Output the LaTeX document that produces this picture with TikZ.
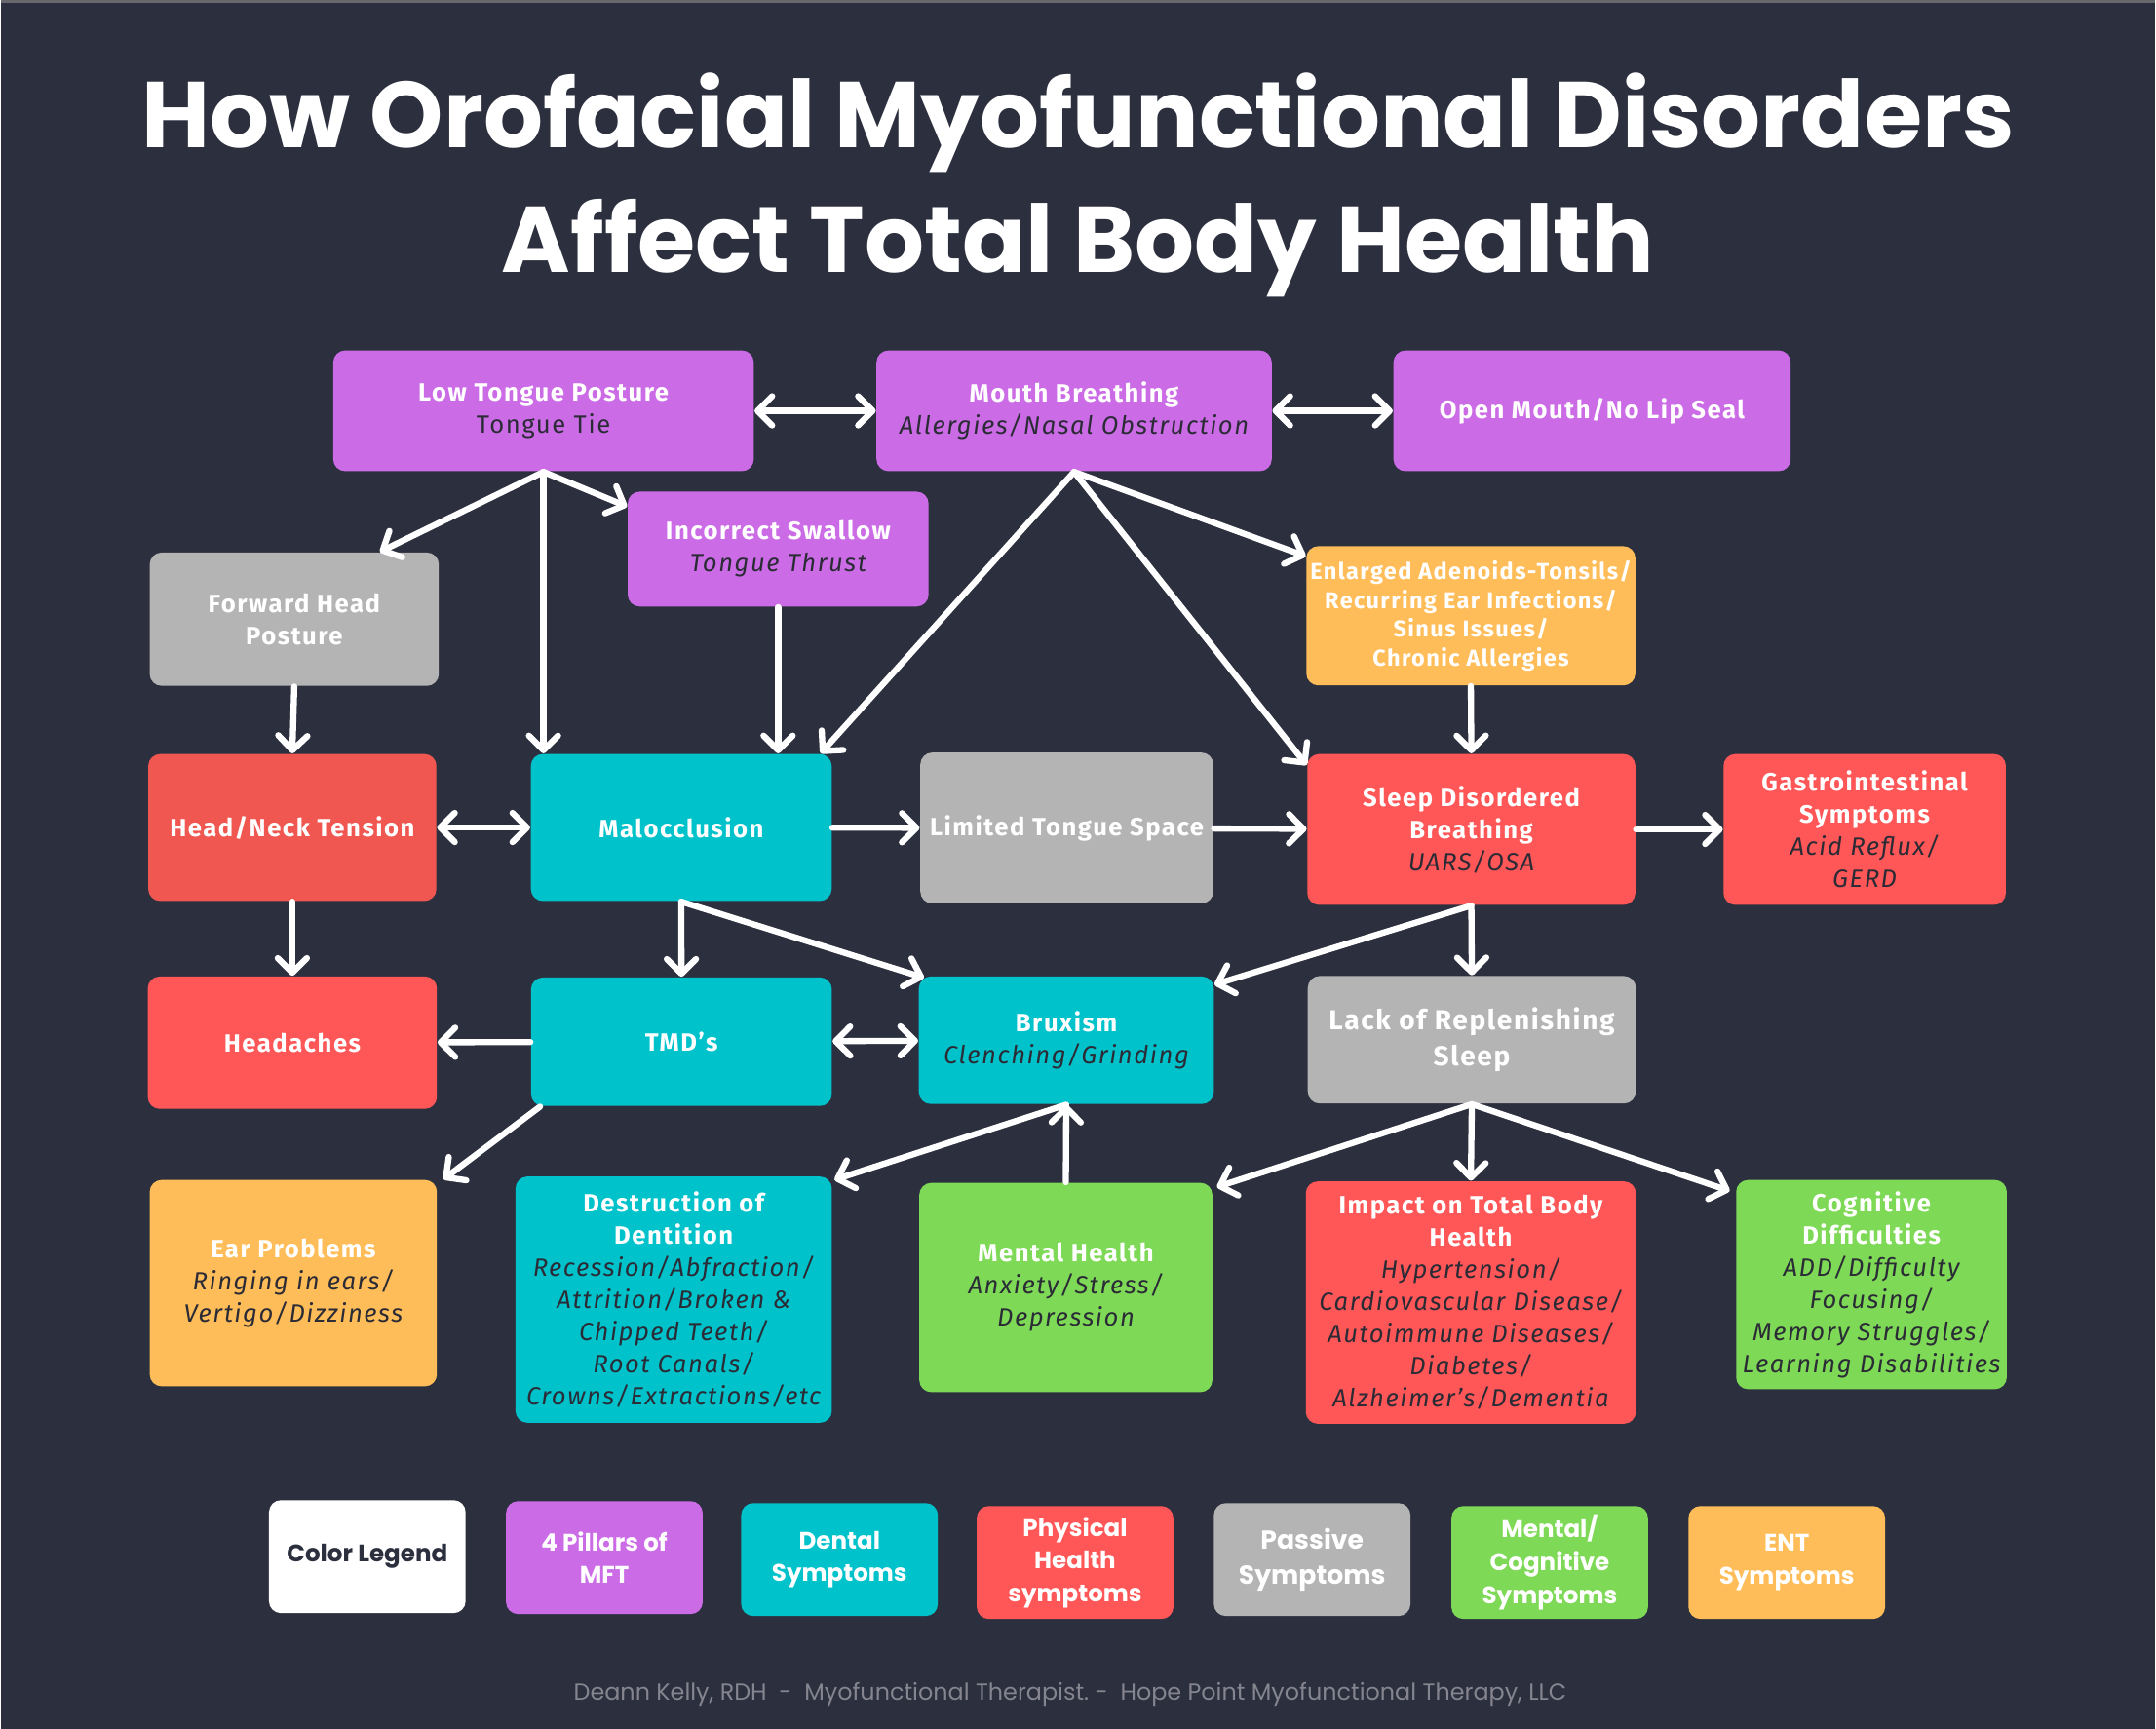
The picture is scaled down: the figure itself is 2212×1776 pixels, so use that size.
\documentclass[tikz,border=0pt]{standalone}
\usepackage{fontspec}
\setmainfont{Fira Sans}[LetterSpace=6]
\newfontfamily\poppins{Poppins}
\usetikzlibrary{arrows.meta, calc}
\definecolor{bgNavy}{HTML}{2C2F3E}
\definecolor{mftPurple}{HTML}{CB6CE6}
\definecolor{mftTeal}{HTML}{00C2CB}
\definecolor{mftRed}{HTML}{FF5757}
\definecolor{mftCoral}{HTML}{EF5750}
\definecolor{mftGray}{HTML}{B4B4B4}
\definecolor{mftGreen}{HTML}{7ED957}
\definecolor{mftOrange}{HTML}{FFBD59}
\definecolor{subText}{HTML}{2B2B36}
\definecolor{footGray}{HTML}{85858F}
\newcommand{\si}[1]{{\color{subText}\mdseries\itshape #1}}
\newcommand{\su}[1]{{\color{subText}\mdseries #1}}

\begin{document}
\begin{tikzpicture}[
    x=0.1mm, y=-0.1mm,
    box/.style 2 args={rectangle, rounded corners=3.5pt, inner sep=0pt, align=center, minimum width=#1, minimum height=#2, text=white, font=\fontsize{7.3}{9.4}\selectfont\bfseries},
    legbox/.style={rectangle, rounded corners=3.5pt, inner sep=0pt, align=center, minimum width=20.2mm, minimum height=11.6mm, text=white, font=\poppins\fontsize{7}{9.6}\selectfont\bfseries},
    arrow/.style={-{Straight Barb[length=1.5mm, width=3mm, round]}, line width=1.8pt, white, line cap=round},
    twoway/.style={{Straight Barb[length=1.5mm, width=3mm, round]}-{Straight Barb[length=1.5mm, width=3mm, round]}, line width=1.8pt, white, line cap=round}
]
    % Background
    \fill[bgNavy] (0,0) rectangle (2212,1776);
    \draw[line width=0.25mm, gray!70!bgNavy] (0,1.5) -- (2212,1.5);

    % Title
    \node[anchor=base, text=white, font=\poppins\bfseries\fontsize{27.3}{30}\selectfont] (title1) at (1106,152) {How Orofacial Myofunctional Disorders};
    \node[anchor=base, text=white, font=\poppins\bfseries\fontsize{27.3}{30}\selectfont] (title2) at (1106,280) {Affect Total Body Health};

    % Nodes
    \node[box={43.2mm}{12.4mm}, fill=mftPurple] (lowtongue) at (557,422) {Low Tongue Posture\\\su{Tongue Tie}};
    \node[box={40.6mm}{12.4mm}, fill=mftPurple] (mouth) at (1102,422) {Mouth Breathing\\\si{Allergies/Nasal Obstruction}};
    \node[box={40.8mm}{12.4mm}, fill=mftPurple] (openmouth) at (1634,422) {Open Mouth/No Lip Seal};
    \node[box={30.9mm}{11.8mm}, fill=mftPurple] (swallow) at (798,564) {Incorrect Swallow\\\si{Tongue Thrust}};
    \node[box={29.7mm}{13.7mm}, fill=mftGray] (fwdhead) at (301,636) {Forward Head\\Posture};
    \node[box={33.8mm}{14.3mm}, fill=mftOrange, font=\fontsize{6.7}{8.4}\selectfont\bfseries] (adenoids) at (1509.5,632.5) {Enlarged Adenoids-Tonsils/\\Recurring Ear Infections/\\Sinus Issues/\\Chronic Allergies};
    \node[box={29.6mm}{15.1mm}, fill=mftCoral] (headneck) at (299,850) {Head/Neck Tension};
    \node[box={30.9mm}{15.1mm}, fill=mftTeal] (malocc) at (698.5,850) {Malocclusion};
    \node[box={30.1mm}{15.5mm}, fill=mftGray] (limited) at (1094.5,850.5) {Limited Tongue Space};
    \node[box={33.7mm}{15.5mm}, fill=mftRed] (sleep) at (1510,852) {Sleep Disordered\\Breathing\\\si{UARS/OSA}};
    \node[box={29.0mm}{15.5mm}, fill=mftRed] (gastro) at (1914,852) {Gastrointestinal\\Symptoms\\\si{Acid Reflux/}\\\si{GERD}};
    \node[box={29.7mm}{13.6mm}, fill=mftRed] (headaches) at (299,1071) {Headaches};
    \node[box={30.9mm}{13.2mm}, fill=mftTeal] (tmd) at (698.7,1070) {TMD’s};
    \node[box={30.3mm}{13.1mm}, fill=mftTeal] (brux) at (1094,1068.5) {Bruxism\\\si{Clenching/Grinding}};
    \node[box={33.7mm}{13.1mm}, fill=mftGray, font=\fontsize{8}{10.4}\selectfont\bfseries] (lack) at (1510.5,1068) {Lack of Replenishing\\Sleep};
    \node[box={29.5mm}{21.2mm}, fill=mftOrange] (ear) at (300,1318) {Ear Problems\\\si{Ringing in ears/}\\\si{Vertigo/Dizziness}};
    \node[box={32.5mm}{25.3mm}, fill=mftTeal] (dentition) at (690.7,1335) {Destruction of\\Dentition\\\si{Recession/Abfraction/}\\\si{Attrition/Broken \&}\\\si{Chipped Teeth/}\\\si{Root Canals/}\\\si{Crowns/Extractions/etc}};
    \node[box={30.1mm}{21.5mm}, fill=mftGreen] (mental) at (1093.5,1322.5) {Mental Health\\\si{Anxiety/Stress/}\\\si{Depression}};
    \node[box={33.9mm}{24.9mm}, fill=mftRed] (impact) at (1509.5,1338) {Impact on Total Body\\Health\\\si{Hypertension/}\\\si{Cardiovascular Disease/}\\\si{Autoimmune Diseases/}\\\si{Diabetes/}\\\si{Alzheimer’s/Dementia}};
    \node[box={27.8mm}{21.5mm}, fill=mftGreen] (cognitive) at (1921,1319.5) {Cognitive\\Difficulties\\\si{ADD/Difficulty}\\\si{Focusing/}\\\si{Memory Struggles/}\\\si{Learning Disabilities}};

    % Connections
    \draw[twoway] (lowtongue) -- (mouth);
    \draw[twoway] (mouth) -- (openmouth);
    \draw[arrow] (lowtongue.south) -- ($(fwdhead.north)+(88,0)$);
    \draw[arrow] (lowtongue.south) -- (lowtongue.south |- malocc.north);
    \draw[arrow] (lowtongue.south) -- ($(swallow.north west)+(0,16)$);
    \draw[arrow] (mouth.south) -- ($(malocc.north east)+(-12,0)$);
    \draw[arrow] (mouth.south) -- ($(sleep.north west)+(0,12)$);
    \draw[arrow] (mouth.south) -- ($(adenoids.north west)+(0,11)$);
    \draw[arrow] (swallow.south) -- (swallow.south |- malocc.north);
    \draw[arrow] (fwdhead.south) -- (headneck.north);
    \draw[arrow] (adenoids.south) -- (sleep.north);
    \draw[twoway] (headneck) -- (malocc);
    \draw[arrow] (malocc) -- (limited);
    \draw[arrow] (limited) -- (sleep);
    \draw[arrow] (sleep) -- (gastro);
    \draw[arrow] (headneck.south) -- (headaches.north);
    \draw[arrow] (malocc.south) -- (tmd.north);
    \draw[arrow] (malocc.south) -- ($(brux.north west)+(6,2)$);
    \draw[arrow] (sleep.south) -- ($(brux.north east)+(0,9)$);
    \draw[arrow] (sleep.south) -- (lack.north);
    \draw[arrow] (tmd) -- (headaches);
    \draw[twoway] (tmd) -- (brux);
    \draw[arrow] ($(tmd.south west)+(10,0)$) -- ($(ear.north east)+(6,0)$);
    \draw[arrow] (brux.south) -- ($(dentition.north east)+(2,4)$);
    \draw[arrow] (mental.north) -- (brux.south);
    \draw[arrow] (lack.south) -- ($(mental.north east)+(4,5)$);
    \draw[arrow] (lack.south) -- (impact.north);
    \draw[arrow] (lack.south) -- ($(cognitive.north west)+(-6,12)$);

    % Legend
    \node[legbox, fill=white, text=bgNavy] (legcolor) at (376,1599) {Color Legend};
    \node[legbox, fill=mftPurple] (legpillars) at (619.5,1600) {4 Pillars of\\MFT};
    \node[legbox, fill=mftTeal] (legdental) at (861,1602) {Dental\\Symptoms};
    \node[legbox, fill=mftRed] (legphysical) at (1103,1605) {Physical\\Health\\symptoms};
    \node[legbox, fill=mftGray, font=\poppins\fontsize{7.6}{10.4}\selectfont\bfseries] (legpassive) at (1346.5,1602) {Passive\\Symptoms};
    \node[legbox, fill=mftGreen] (legmental) at (1590.5,1605) {Mental/\\Cognitive\\Symptoms};
    \node[legbox, fill=mftOrange] (legent) at (1834,1605) {ENT\\Symptoms};

    % Footer
    \node[anchor=base, text=footGray, font=\poppins\fontsize{6.8}{8}\selectfont] (footer) at (1098,1746) {Deann Kelly, RDH~~-~~Myofunctional Therapist.~-~~Hope Point Myofunctional Therapy, LLC};
\end{tikzpicture}
\end{document}
